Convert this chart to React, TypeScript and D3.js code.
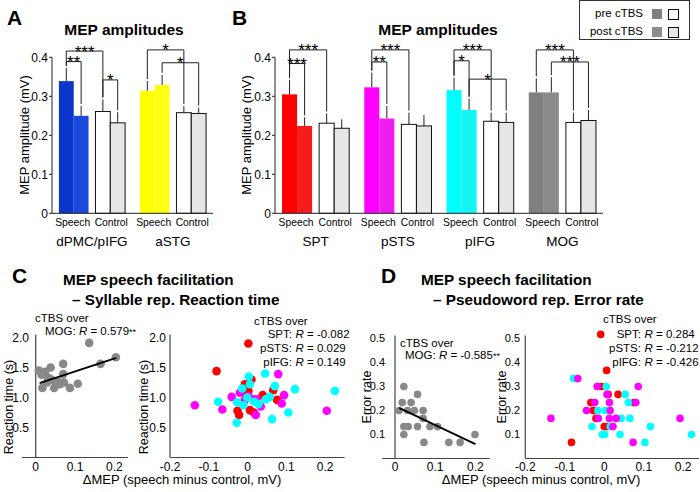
import React from 'react';
import * as d3 from 'd3';

const FONT = "Arial, 'Liberation Sans', Helvetica, sans-serif";

// ---------- Panel A data ----------
const groupsA = ['dPMC/pIFG', 'aSTG'];
const speechPreA = [0.339, 0.314];
const speechPostA = [0.25, 0.329];
const controlPreA = [0.261, 0.258];
const controlPostA = [0.232, 0.256];
const speechPreSemA = [0.034, 0.025];
const speechPostSemA = [0.025, 0.026];
const controlPreSemA = [0.031, 0.017];
const controlPostSemA = [0.027, 0.015];
const colorPreA = ['#0a36cc', '#ffff00'];
const colorPostA = ['#1a4adc', '#ffff14'];
// [group, barFrom, barTo, bracketTop, stars]
const sigA: [number, number, number, number, string][] = [
  [0, 0, 2, 0.416, '***'],
  [0, 0, 1, 0.389, '**'],
  [0, 2, 3, 0.342, '*'],
  [1, 0, 2, 0.419, '*'],
  [1, 1, 3, 0.386, '*'],
];

// ---------- Panel B data ----------
const groupsB = ['SPT', 'pSTS', 'pIFG', 'MOG'];
const speechPreB = [0.305, 0.323, 0.316, 0.31];
const speechPostB = [0.224, 0.243, 0.265, 0.31];
const controlPreB = [0.231, 0.228, 0.236, 0.233];
const controlPostB = [0.218, 0.224, 0.233, 0.238];
const speechPreSemB = [0.037, 0.038, 0.032, 0.036];
const speechPostSemB = [0.022, 0.032, 0.029, 0.039];
const controlPreSemB = [0.025, 0.03, 0.022, 0.025];
const controlPostSemB = [0.023, 0.028, 0.025, 0.027];
const colorPreB = ['#ff0000', '#ff00ff', '#00ffff', '#808080'];
const colorPostB = ['#f41c1c', '#f01cf0', '#14f4f4', '#8a8a8a'];
const sigB: [number, number, number, number, string][] = [
  [0, 0, 2, 0.419, '***'],
  [0, 0, 1, 0.384, '***'],
  [1, 0, 2, 0.419, '***'],
  [1, 0, 1, 0.388, '**'],
  [2, 0, 2, 0.419, '***'],
  [2, 0, 1, 0.391, '*'],
  [2, 1, 3, 0.344, '*'],
  [3, 0, 2, 0.419, '***'],
  [3, 1, 3, 0.388, '***'],
];
const conditionLabels = ['Speech', 'Control'];
const barYTicks = [0, 0.1, 0.2, 0.3, 0.4];

// ---------- Panel C data ----------
const cLeftX = [0.136, 0.204, 0.165, 0.07, 0.038, 0.008, 0.024, 0.07, 0.032, 0.049, 0.017, 0.047, 0.058, 0.072, 0.087, 0.107, 0.028, 0.04, 0.062, 0.015];
const cLeftY = [1.91, 1.67, 1.56, 1.56, 1.5, 1.45, 1.43, 1.39, 1.33, 1.27, 1.16, 1.16, 1.26, 1.25, 1.16, 1.23, 1.25, 1.3, 1.22, 1.38];
const cFitX = [0.01, 0.205];
const cFitY = [1.24, 1.66];
const cRedX = [0.002, -0.08, 0.01, -0.007, 0.002, 0.066, 0.039, 0.076, -0.026, -0.022, 0.006, 0.016, -0.005];
const cRedY = [1.9, 1.44, 1.3, 1.22, 1.11, 1.12, 1.04, 0.96, 0.78, 0.71, 0.79, 0.75, 1.05];
const cMagX = [-0.136, -0.065, -0.041, -0.02, 0.023, 0.079, 0.094, 0.088, 0.204, 0.021, 0.034, 0.015, -0.008, 0.002];
const cMagY = [0.87, 0.8, 1.01, 1.08, 0.97, 1.39, 1.04, 0.9, 0.78, 0.71, 0.85, 0.97, 0.95, 1.02];
const cCyanX = [0.045, 0.003, 0.07, -0.014, 0.122, 0.225, 0.006, 0.057, 0.047, -0.076, -0.027, -0.001, 0.028, 0.105, 0.063, -0.028, -0.011, 0.017];
const cCyanY = [1.4, 1.35, 1.19, 1.15, 1.14, 1.11, 1.22, 1.01, 0.97, 0.93, 0.92, 1.0, 0.89, 0.75, 0.64, 0.58, 0.87, 0.93];
const cYTicks = [0.5, 1.0, 1.5, 2.0];
const cLeftXTicks = [0, 0.1, 0.2];
const rightXTicks = [-0.2, -0.1, 0, 0.1, 0.2];

// ---------- Panel D data ----------
const dLeftX = [0.022, 0.056, 0.018, 0.04, 0.01, 0.031, 0.048, 0.07, 0.07, 0.022, 0.033, 0.056, 0.087, 0.106, 0.022, 0.199, 0.072, 0.134, 0.162];
const dLeftY = [0.3, 0.267, 0.233, 0.233, 0.2, 0.2, 0.2, 0.2, 0.167, 0.133, 0.133, 0.133, 0.133, 0.133, 0.1, 0.1, 0.067, 0.067, 0.067];
const dFitX = [0.01, 0.2];
const dFitY = [0.211, 0.06];
const dRedX = [-0.009, 0.006, -0.083, 0.035, 0.01, -0.007, -0.034, -0.028, -0.021, 0.007, 0.0, 0.075];
const dRedY = [0.517, 0.367, 0.067, 0.267, 0.267, 0.3, 0.233, 0.2, 0.167, 0.133, 0.133, 0.233];
const dCyanX = [-0.078, 0.005, 0.053, 0.061, -0.016, 0.003, 0.043, 0.065, -0.031, 0.117, -0.005, 0.001, 0.04, 0.221, 0.103, 0.015];
const dCyanY = [0.333, 0.3, 0.267, 0.233, 0.2, 0.2, 0.167, 0.167, 0.133, 0.133, 0.1, 0.1, 0.1, 0.1, 0.067, 0.133];
const dMagX = [-0.067, -0.135, -0.018, 0.086, -0.024, 0.013, -0.045, 0.015, -0.015, 0.013, 0.03, 0.08, 0.192, 0.073, 0.022, 0.007];
const dMagY = [0.333, 0.167, 0.3, 0.3, 0.233, 0.233, 0.2, 0.2, 0.167, 0.167, 0.167, 0.233, 0.167, 0.067, 0.133, 0.267];
const dYTicks = [0.1, 0.2, 0.3, 0.4, 0.5];

const RED = '#ff0000';
const MAG = '#ff00ff';
const CYAN = '#00ffff';
const GREY = '#888888';

type BarProps = {
  groups: string[];
  vals: number[][];
  sems: number[][];
  colPre: string[];
  colPost: string[];
  sig: [number, number, number, number, string][];
  x0: number;
  x1: number;
  titleX: number;
  letter: string;
  letterX: number;
  ylabelX: number;
};

function BarPanel(p: BarProps) {
  const y = d3.scaleLinear().domain([0, 0.4]).range([213.3, 57.3]);
  const band = d3.scaleBand<string>().domain(p.groups).range([p.x0, p.x1]).paddingInner(15 / 82).paddingOuter(7 / 82);
  const bw = band.bandwidth();
  const offs = [0, 15, 37, 52].map((o) => (o / 67) * bw);
  const w = (15 / 67) * bw;
  const info = (gi: number, bi: number) => {
    const xl = (band(p.groups[gi]) as number) + offs[bi];
    const v = p.vals[bi][gi];
    return { xl, cx: xl + w / 2, v, top: v + p.sems[bi][gi] };
  };
  return (
    <g>
      <text x={p.letterX} y={25} fontSize={21} fontWeight="bold">{p.letter}</text>
      <text x={p.titleX} y={35} fontSize={15.5} fontWeight="bold" textAnchor="middle">MEP amplitudes</text>
      <text transform={`translate(${p.ylabelX},${135}) rotate(-90)`} fontSize={13} textAnchor="middle">MEP amplitude (mV)</text>
      {p.groups.map((g, gi) => (
        <g key={g}>
          {[0, 1, 2, 3].map((bi) => {
            const b = info(gi, bi);
            const fill = bi === 0 ? p.colPre[gi] : bi === 1 ? p.colPost[gi] : bi === 2 ? '#ffffff' : '#e6e6e6';
            return (
              <g key={bi}>
                <line x1={b.cx} x2={b.cx} y1={y(b.v)} y2={y(b.top)} stroke="#222" strokeWidth={1} />
                <rect x={b.xl} y={y(b.v)} width={w} height={y(0) - y(b.v)} fill={fill}
                  stroke={bi >= 2 ? '#111' : 'none'} strokeWidth={1} />
              </g>
            );
          })}
          <text x={(band(g) as number) + offs[1] - 1} y={226} fontSize={10.3} textAnchor="middle">{conditionLabels[0]}</text>
          <text x={(band(g) as number) + offs[3] + 1} y={226} fontSize={10.3} textAnchor="middle">{conditionLabels[1]}</text>
          <text x={(band(g) as number) + bw / 2} y={246} fontSize={13.5} textAnchor="middle">{g}</text>
        </g>
      ))}
      {p.sig.map(([gi, a, b2, top, s], i) => {
        const A = info(gi, a);
        const B = info(gi, b2);
        const yt = y(top);
        return (
          <g key={i}>
            <path d={`M${A.cx},${y(A.top) - 2}V${yt}H${B.cx}V${y(B.top) - 2}`} fill="none" stroke="#222" strokeWidth={1} />
            <text x={(A.cx + B.cx) / 2} y={yt + 6.5} fontSize={17} textAnchor="middle">{s}</text>
          </g>
        );
      })}
      <line x1={p.x0} x2={p.x0} y1={y(0.4)} y2={y(0)} stroke="#222" />
      <line x1={p.x0} x2={p.x1} y1={y(0)} y2={y(0)} stroke="#222" />
      {barYTicks.map((t) => (
        <g key={t}>
          <line x1={p.x0 - 3} x2={p.x0} y1={y(t)} y2={y(t)} stroke="#222" />
          <text x={p.x0 - 4} y={y(t)} dy="0.35em" fontSize={12} textAnchor="end">{t === 0 ? '0' : t.toFixed(1)}</text>
        </g>
      ))}
    </g>
  );
}

type Series = { xs: number[]; ys: number[]; color: string };

type ScatterProps = {
  xDomain: [number, number];
  xRange: [number, number];
  yDomain: [number, number];
  yRange: [number, number];
  xLine: [number, number];
  yAxisAt: number;
  xTicks: number[];
  yTicks: number[];
  yTickX: number;
  yTickSize: number;
  series: Series[];
  r: number;
  fit?: [number[], number[]];
  ylabel: string;
  ylabelX: number;
  ylabelY: number;
};

const fmtX = (t: number) => (t === 0 ? '0' : t < 0 ? '-' + Math.abs(t).toFixed(1) : t.toFixed(1));

function Scatter(p: ScatterProps) {
  const x = d3.scaleLinear().domain(p.xDomain).range(p.xRange);
  const y = d3.scaleLinear().domain(p.yDomain).range(p.yRange);
  const line = d3.line<number>().x((_, i) => x(p.fit![0][i])).y((d) => y(d));
  return (
    <g>
      <text transform={`translate(${p.ylabelX},${p.ylabelY}) rotate(-90)`} fontSize={12.5} textAnchor="middle">{p.ylabel}</text>
      <line x1={x(p.xLine[0])} x2={x(p.xLine[1])} y1={y(p.yDomain[0])} y2={y(p.yDomain[0])} stroke="#444" strokeWidth={1.2} />
      <line x1={x(p.yAxisAt)} x2={x(p.yAxisAt)} y1={y(p.yDomain[1]) - 3} y2={y(p.yDomain[0])} stroke="#444" strokeWidth={1.2} />
      {p.xTicks.map((t) => (
        <text key={t} x={x(t)} y={471} fontSize={12} textAnchor="middle">{fmtX(t)}</text>
      ))}
      {p.yTicks.map((t) => (
        <text key={t} x={p.yTickX} y={y(t)} dy="0.35em" fontSize={p.yTickSize} textAnchor="end">{t.toFixed(1)}</text>
      ))}
      {p.series.map((s, si) => (
        <g key={si}>
          {s.xs.map((v, i) => (
            <circle key={i} cx={x(v)} cy={y(s.ys[i])} r={p.r} fill={s.color} />
          ))}
        </g>
      ))}
      {p.fit && <path d={line(p.fit[1]) || ''} stroke="#000" strokeWidth={1.8} fill="none" />}
    </g>
  );
}

function RLine({ x, y, label, value }: { x: number; y: number; label: string; value: string }) {
  return (
    <g fontSize={11.5}>
      <text x={x} y={y} textAnchor="end">{label}</text>
      <text x={x + 3.5} y={y}>
        <tspan fontStyle="italic">R</tspan>
        <tspan>{' = ' + value}</tspan>
      </text>
    </g>
  );
}

export default function App() {
  return (
    <svg width={700} height={492} fontFamily={FONT} style={{ position: 'absolute', left: 0, top: 0, background: '#fff' }}>
      <rect width={700} height={492} fill="#fff" />
      <BarPanel groups={groupsA}
        vals={[speechPreA, speechPostA, controlPreA, controlPostA]}
        sems={[speechPreSemA, speechPostSemA, controlPreSemA, controlPostSemA]}
        colPre={colorPreA} colPost={colorPostA} sig={sigA}
        x0={52} x1={213} titleX={124} letter="A" letterX={7} ylabelX={29} />
      <BarPanel groups={groupsB}
        vals={[speechPreB, speechPostB, controlPreB, controlPostB]}
        sems={[speechPreSemB, speechPostSemB, controlPreSemB, controlPostSemB]}
        colPre={colorPreB} colPost={colorPostB} sig={sigB}
        x0={275} x1={603} titleX={438} letter="B" letterX={232} ylabelX={251} />

      {/* legend */}
      <g fontSize={11.5}>
        <rect x={579.5} y={0.5} width={110} height={39} fill="#fff" stroke="#333" />
        <text x={643} y={17} textAnchor="end">pre cTBS</text>
        <text x={643} y={35} textAnchor="end">post cTBS</text>
        <rect x={652} y={9} width={10} height={10} fill="#808080" />
        <rect x={668.5} y={9.5} width={10} height={10} fill="#fff" stroke="#111" />
        <rect x={652} y={27} width={10} height={10} fill="#8c8c8c" />
        <rect x={668.5} y={27.5} width={10} height={10} fill="#e6e6e6" stroke="#111" />
      </g>

      {/* Panel C */}
      <text x={12} y={283} fontSize={21} fontWeight="bold">C</text>
      <text x={63} y={285} fontSize={15.3} fontWeight="bold">MEP speech facilitation</text>
      <text x={72} y={305} fontSize={15.3} fontWeight="bold">– Syllable rep. Reaction time</text>
      <Scatter xDomain={[0, 0.2]} xRange={[35.7, 114.3]} yDomain={[0, 2]} yRange={[457.5, 337.5]}
        xLine={[-0.035, 0.235]} yAxisAt={0} xTicks={cLeftXTicks} yTicks={cYTicks} yTickX={29} yTickSize={12}
        series={[{ xs: cLeftX, ys: cLeftY, color: GREY }]} r={4.3} fit={[cFitX, cFitY]}
        ylabel="Reaction time (s)" ylabelX={13} ylabelY={407} />
      <text x={35} y={322} fontSize={11.5}>cTBS over</text>
      <text x={45} y={335} fontSize={11.5}>
        <tspan>MOG: </tspan><tspan fontStyle="italic">R</tspan><tspan> = 0.579</tspan><tspan fontSize={9}>**</tspan>
      </text>
      <Scatter xDomain={[-0.2, 0.25]} xRange={[170, 344.6]} yDomain={[0, 2]} yRange={[457.5, 337.5]}
        xLine={[-0.2, 0.25]} yAxisAt={-0.2} xTicks={rightXTicks} yTicks={cYTicks} yTickX={166} yTickSize={12}
        series={[{ xs: cRedX, ys: cRedY, color: RED }, { xs: cMagX, ys: cMagY, color: MAG }, { xs: cCyanX, ys: cCyanY, color: CYAN }]}
        r={4.3} ylabel="Reaction time (s)" ylabelX={148} ylabelY={407} />
      <text x={254} y={325} fontSize={11.5}>cTBS over</text>
      <RLine x={292} y={338} label="SPT:" value="-0.082" />
      <RLine x={292} y={352} label="pSTS:" value="0.029" />
      <RLine x={292} y={366} label="pIFG:" value="0.149" />
      <text x={182} y={484} fontSize={13} textAnchor="middle">ΔMEP (speech minus control, mV)</text>

      {/* Panel D */}
      <text x={381} y={283} fontSize={21} fontWeight="bold">D</text>
      <text x={421} y={285} fontSize={15.3} fontWeight="bold">MEP speech facilitation</text>
      <text x={433} y={305} fontSize={15.3} fontWeight="bold">– Pseudoword rep. Error rate</text>
      <Scatter xDomain={[0, 0.2]} xRange={[395, 475.4]} yDomain={[0, 0.5]} yRange={[458.5, 338.5]}
        xLine={[-0.032, 0.236]} yAxisAt={0} xTicks={cLeftXTicks} yTicks={dYTicks} yTickX={385} yTickSize={11}
        series={[{ xs: dLeftX, ys: dLeftY, color: GREY }]} r={3.8} fit={[dFitX, dFitY]}
        ylabel="Error rate" ylabelX={371} ylabelY={397} />
      <text x={400} y={347} fontSize={11.5}>cTBS over</text>
      <text x={405} y={359} fontSize={11.5}>
        <tspan>MOG: </tspan><tspan fontStyle="italic">R</tspan><tspan> = -0.585</tspan><tspan fontSize={9}>**</tspan>
      </text>
      <Scatter xDomain={[-0.2, 0.24]} xRange={[525.3, 699]} yDomain={[0, 0.5]} yRange={[458.5, 338.5]}
        xLine={[-0.2, 0.24]} yAxisAt={-0.2} xTicks={rightXTicks} yTicks={dYTicks} yTickX={520} yTickSize={11}
        series={[{ xs: dRedX, ys: dRedY, color: RED }, { xs: dCyanX, ys: dCyanY, color: CYAN }, { xs: dMagX, ys: dMagY, color: MAG }]}
        r={3.8} ylabel="Error rate" ylabelX={506} ylabelY={397} />
      <text x={603} y={323} fontSize={11.5}>cTBS over</text>
      <RLine x={641} y={338} label="SPT:" value="0.284" />
      <RLine x={641} y={352} label="pSTS:" value="-0.212" />
      <RLine x={641} y={366} label="pIFG:" value="-0.426" />
      <text x={541} y={484} fontSize={13} textAnchor="middle">ΔMEP (speech minus control, mV)</text>
    </svg>
  );
}
